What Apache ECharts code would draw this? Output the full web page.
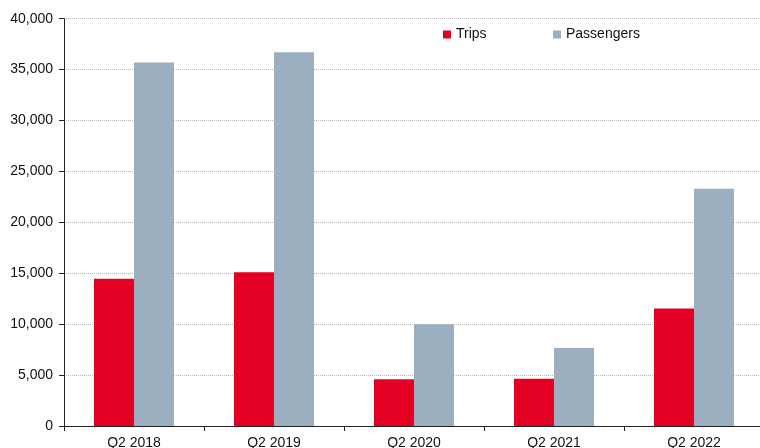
<!DOCTYPE html>
<html>
<head>
<meta charset="utf-8">
<script src="https://cdn.jsdelivr.net/npm/echarts@6/dist/echarts.min.js"></script>
<style>html,body{margin:0;padding:0;background:#fff}#c{width:760px;height:448px}</style>
</head>
<body>
<div id="c"></div>
<script>
const categories = ['Q2 2018', 'Q2 2019', 'Q2 2020', 'Q2 2021', 'Q2 2022'];
const trips = [14450, 15100, 4600, 4650, 11550];
const passengers = [35700, 36700, 10000, 7650, 23300];
const yTicks = [0, 5000, 10000, 15000, 20000, 25000, 30000, 35000, 40000];

const font = 'Liberation Sans, Arial, Helvetica, sans-serif';
const legendBase = {
  top: 27.5, padding: 0,
  itemWidth: 8, itemHeight: 8,
  icon: 'rect',
  textStyle: {fontSize: 14, color: '#111', fontFamily: font}
};
const chart = echarts.init(document.getElementById('c'), null, {renderer: 'canvas'});
chart.setOption({
  animation: false,
  backgroundColor: '#fff',
  textStyle: {fontFamily: font},
  grid: {left: 64, width: 700, top: 18.7, bottom: 22, containLabel: false, outerBoundsMode: 'none'},
  legend: [
    Object.assign({left: 443, data: ['Trips']}, legendBase),
    Object.assign({left: 553, data: ['Passengers']}, legendBase)
  ],
  xAxis: {
    type: 'category',
    data: categories,
    axisLine: {lineStyle: {color: '#222', width: 1}},
    axisTick: {show: true, length: 5, lineStyle: {color: '#222'}},
    axisLabel: {fontSize: 14, color: '#111', margin: 10, fontFamily: font},
    splitLine: {show: false}
  },
  yAxis: {
    type: 'value',
    min: yTicks[0], max: yTicks[yTicks.length - 1], interval: 5000,
    axisLine: {show: true, lineStyle: {color: '#222', width: 1}},
    axisTick: {show: true, length: 5, lineStyle: {color: '#222'}},
    axisLabel: {fontSize: 14, color: '#111', margin: 11, fontFamily: font,
      formatter: v => v.toLocaleString('en-US')},
    splitLine: {show: true, lineStyle: {color: '#b4b4b4', type: [1, 1], width: 1}}
  },
  series: [
    {name: 'Trips', type: 'bar', data: trips, barWidth: 40, barGap: '0%',
     itemStyle: {color: '#e30022'}},
    {name: 'Passengers', type: 'bar', data: passengers, barWidth: 40, barGap: '0%',
     itemStyle: {color: '#9bafc0'}}
  ]
});
</script>
</body>
</html>
